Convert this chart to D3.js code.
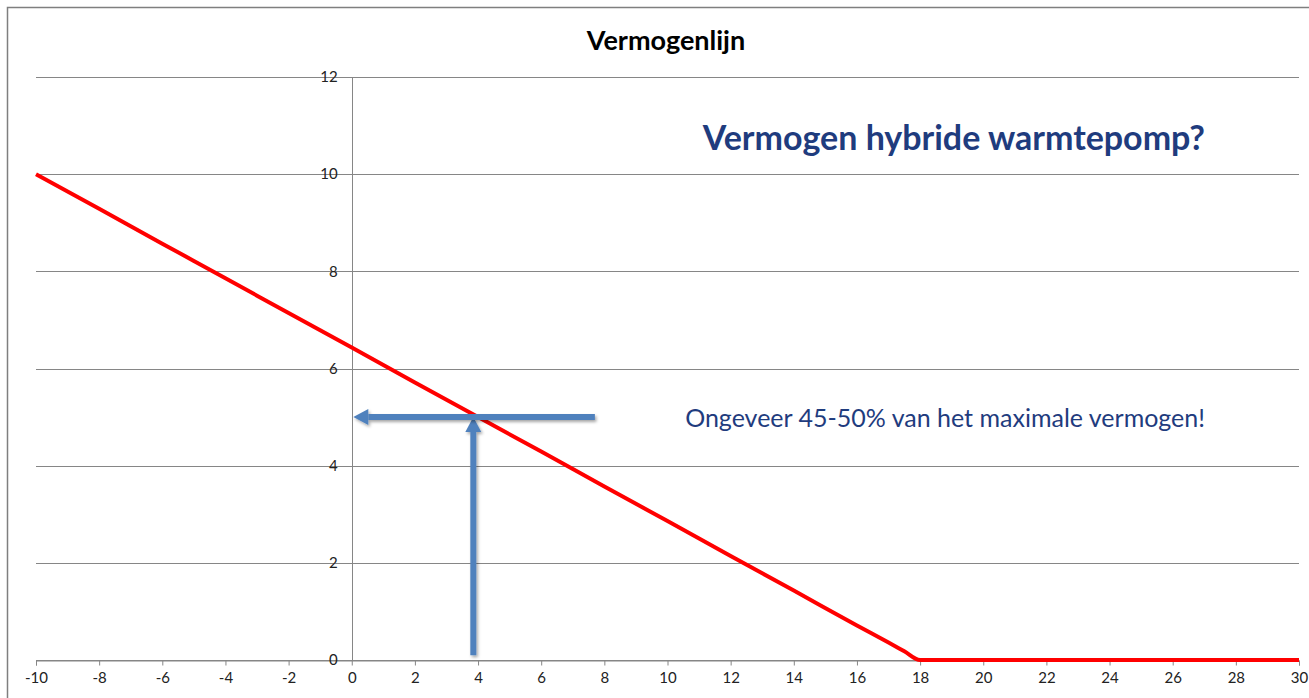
<!DOCTYPE html>
<html>
<head>
<meta charset="utf-8">
<script src="https://cdn.jsdelivr.net/npm/d3@7"></script>
<style>
  body { margin: 0; background: #fff; }
  text { font-family: Lato, "Open Sans", sans-serif; }
</style>
</head>
<body>
<div id="chart"></div>
<script>
// temperatures (x) and power (y) of the line
var tempX = [-10, -8, -6, -4, -2, 0, 2, 4, 6, 8, 10, 12, 14, 16, 17, 17.5, 18, 19, 20, 22, 24, 26, 28, 30];
var powerY = [10, 9.29, 8.57, 7.86, 7.14, 6.43, 5.71, 5.0, 4.29, 3.57, 2.86, 2.14, 1.43, 0.71, 0.36, 0.18, 0, 0, 0, 0, 0, 0, 0, 0];
var xTicks = [-10, -8, -6, -4, -2, 0, 2, 4, 6, 8, 10, 12, 14, 16, 18, 20, 22, 24, 26, 28, 30];
var yTicks = [0, 2, 4, 6, 8, 10, 12];
// arrows in data units: [x1, y1, x2 (tip), y2 (tip)]
var arrowH = [7.7, 5, 0.05, 5];
var arrowV = [3.85, 0.1, 3.85, 5];

var width = 1309, height = 698;
var margin = {top: 77, right: 10, bottom: 38, left: 36};

var svg = d3.select("#chart").append("svg")
	.attr("width", width)
	.attr("height", height);

// outer chart frame
svg.append("rect")
	.attr("x", 7.5).attr("y", 7.5)
	.attr("width", width + 20).attr("height", height + 20)
	.attr("fill", "none")
	.attr("stroke", "#7f7f7f")
	.attr("stroke-width", 1.5);

var xScale = d3.scaleLinear().domain([-10, 30]).range([margin.left, 1299]),
	yScale = d3.scaleLinear().domain([0, 12]).range([660, margin.top]);

// horizontal grid lines
svg.append("g").selectAll("line")
	.data(yTicks)
	.enter().append("line")
		.attr("x1", xScale(-10))
		.attr("x2", xScale(30))
		.attr("y1", function(d) { return Math.round(yScale(d)) + 0.5; })
		.attr("y2", function(d) { return Math.round(yScale(d)) + 0.5; })
		.attr("stroke", "#868686")
		.attr("stroke-width", 1);

// vertical axis at x = 0
svg.append("line")
	.attr("x1", Math.round(xScale(0)) + 0.5)
	.attr("x2", Math.round(xScale(0)) + 0.5)
	.attr("y1", yScale(12))
	.attr("y2", yScale(0))
	.attr("stroke", "#868686");

// x axis
var xAxis = d3.axisBottom(xScale).tickValues(xTicks).tickSize(5).tickPadding(7)
	.tickFormat(function(d) { return String(d); });
var gx = svg.append("g")
	.attr("transform", "translate(0," + (Math.round(yScale(0)) + 0.5) + ")")
	.call(xAxis);
gx.select(".domain").attr("stroke", "#868686");
gx.selectAll(".tick line").attr("stroke", "#868686");
gx.selectAll("text").style("font-size", "15px").style("font-family", "Lato, sans-serif").attr("fill", "#222");

// y tick labels, drawn over the grid
svg.append("g").selectAll("text")
	.data(yTicks)
	.enter().append("text")
		.attr("x", xScale(0) - 14)
		.attr("y", function(d) { return yScale(d); })
		.attr("dy", "0.35em")
		.attr("text-anchor", "end")
		.style("font-size", "15px")
		.attr("fill", "#222")
		.text(function(d) { return d; });

// the red power line
var pts = tempX.map(function(t, i) { return [t, powerY[i]]; });
var line = d3.line()
	.x(function(d) { return xScale(d[0]); })
	.y(function(d) { return yScale(d[1]); })
	.curve(d3.curveMonotoneX);

svg.append("path")
	.datum(pts)
	.attr("d", line)
	.attr("fill", "none")
	.attr("stroke", "#ff0000")
	.attr("stroke-width", 4)
	.attr("stroke-linejoin", "round");

// blue arrows with a soft shadow
var defs = svg.append("defs");
var f = defs.append("filter").attr("id", "shadow").attr("x", "-20%").attr("y", "-20%").attr("width", "140%").attr("height", "140%");
f.append("feDropShadow").attr("dx", 1.5).attr("dy", 2).attr("stdDeviation", 1.5).attr("flood-color", "#000").attr("flood-opacity", 0.35);

function arrow(a) {
	var x1 = xScale(a[0]), y1 = yScale(a[1]), x2 = xScale(a[2]), y2 = yScale(a[3]);
	var ang = Math.atan2(y2 - y1, x2 - x1);
	var headLen = 15, headW = 8;
	var bx = x2 - headLen * Math.cos(ang), by = y2 - headLen * Math.sin(ang);
	var px = -Math.sin(ang), py = Math.cos(ang);
	var g = svg.append("g").attr("filter", "url(#shadow)");
	g.append("line")
		.attr("x1", x1).attr("y1", y1)
		.attr("x2", bx).attr("y2", by)
		.attr("stroke", "#4f81bd")
		.attr("stroke-width", 6);
	g.append("path")
		.attr("d", "M" + x2 + "," + y2 +
			"L" + (bx + px * headW) + "," + (by + py * headW) +
			"L" + (bx - px * headW) + "," + (by - py * headW) + "Z")
		.attr("fill", "#4f81bd");
}
arrow(arrowV);
arrow(arrowH);

// titles and notes
svg.append("text")
	.attr("x", 666)
	.attr("y", 50)
	.attr("text-anchor", "middle")
	.style("font-size", "27px")
	.style("font-weight", "bold")
	.attr("fill", "#000")
	.text("Vermogenlijn");

svg.append("text")
	.attr("x", 1205)
	.attr("y", 150)
	.attr("text-anchor", "end")
	.style("font-size", "34px")
	.style("font-weight", "bold")
	.attr("fill", "#1f3c7e")
	.text("Vermogen hybride warmtepomp?");

svg.append("text")
	.attr("x", 1205)
	.attr("y", 427)
	.attr("text-anchor", "end")
	.style("font-size", "25px")
	.attr("fill", "#1f3c7e")
	.text("Ongeveer 45-50% van het maximale vermogen!");
</script>
</body>
</html>
